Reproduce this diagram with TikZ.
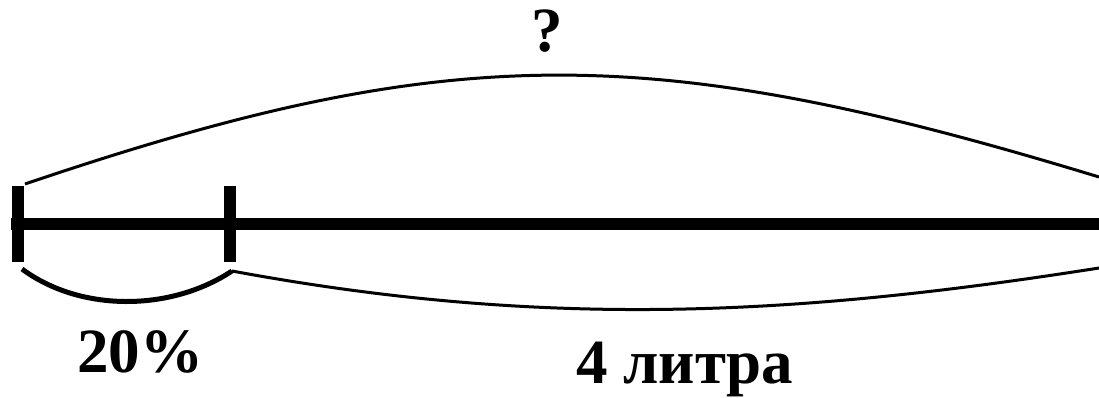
\documentclass[tikz,border=0pt]{standalone}
\usepackage{fontspec}
\setmainfont{Liberation Serif}
\begin{document}
\begin{tikzpicture}[x=1pt, y=-1pt,
    axis/.style={line width=12pt},
    tick/.style={line width=12pt},
    brace/.style={line width=5pt},
    span/.style={line width=3pt},
    label/.style={inner sep=0pt, font=\fontsize{63}{63}\selectfont\bfseries}]
  \useasboundingbox (0,0) rectangle (1099,398);
  % segment ends
  \coordinate (start) at (11,224);
  \coordinate (stop) at (1099,224);
  \coordinate (a) at (18,224);
  \coordinate (b) at (230,224);
  % curve ends
  \coordinate (top left) at (25,184);
  \coordinate (top right) at (1099,177);
  \coordinate (low left) at (22,269);
  \coordinate (low mid) at (232,271);
  \coordinate (low right) at (1099,268);
  \draw[axis] (start) -- (stop);
  \draw[tick] ([yshift=-38pt]a) -- ([yshift=38pt]a);
  \draw[tick] ([yshift=-38pt]b) -- ([yshift=38pt]b);
  \draw[span] (top left) .. controls (450,40) and (650,40) .. (top right);
  \draw[brace] (low left) .. controls (80,312) and (170,312) .. (low mid);
  \draw[span] (low mid) .. controls (550,330) and (800,315) .. (low right);
  \node[label, anchor=base] (whole) at (547,52) {?};
  \node[label, anchor=base west] (part) at (77,372) {20\%};
  \node[label, anchor=base west] (rest) at (576,383) {4 литра};
\end{tikzpicture}
\end{document}
